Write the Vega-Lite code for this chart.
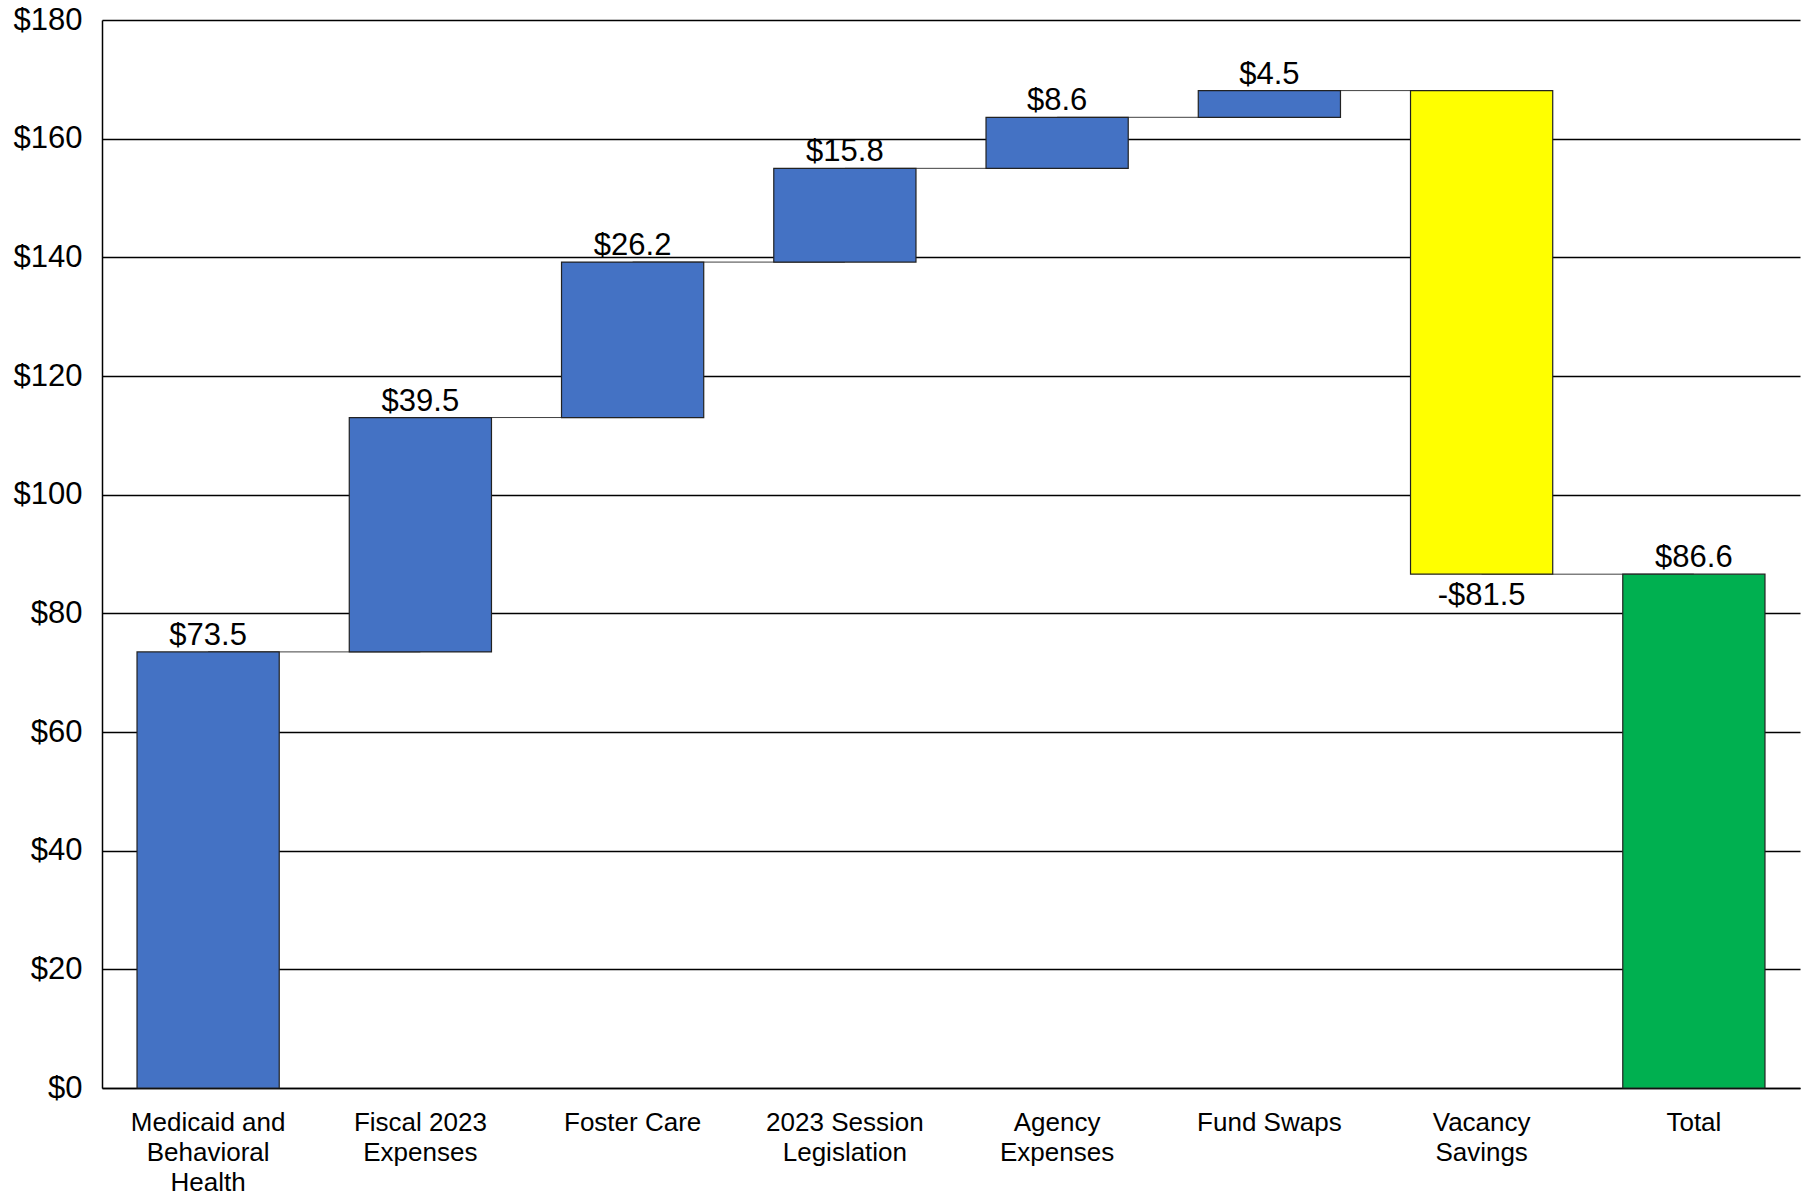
{
  "$schema": "https://vega.github.io/schema/vega-lite/v6.json",
  "width": 1698,
  "height": 1068,
  "autosize": {"type": "none"},
  "padding": {"left": 102, "top": 20, "right": 5, "bottom": 111},
  "background": "white",
  "config": {
    "view": {"stroke": null},
    "font": "Liberation Sans"
  },
  "data": {
    "values": [
      {"cat": "Medicaid and Behavioral Health", "next": "Fiscal 2023 Expenses", "start": 0, "end": 73.5, "kind": "increase", "label": "$73.5"},
      {"cat": "Fiscal 2023 Expenses", "next": "Foster Care", "start": 73.5, "end": 113.0, "kind": "increase", "label": "$39.5"},
      {"cat": "Foster Care", "next": "2023 Session Legislation", "start": 113.0, "end": 139.2, "kind": "increase", "label": "$26.2"},
      {"cat": "2023 Session Legislation", "next": "Agency Expenses", "start": 139.2, "end": 155.0, "kind": "increase", "label": "$15.8"},
      {"cat": "Agency Expenses", "next": "Fund Swaps", "start": 155.0, "end": 163.6, "kind": "increase", "label": "$8.6"},
      {"cat": "Fund Swaps", "next": "Vacancy Savings", "start": 163.6, "end": 168.1, "kind": "increase", "label": "$4.5"},
      {"cat": "Vacancy Savings", "next": "Total", "start": 168.1, "end": 86.6, "kind": "decrease", "label": "-$81.5"},
      {"cat": "Total", "next": null, "start": 0, "end": 86.6, "kind": "total", "label": "$86.6"}
    ]
  },
  "encoding": {
    "x": {
      "field": "cat",
      "type": "nominal",
      "sort": null,
      "scale": {"paddingInner": 0.33, "paddingOuter": 0.165},
      "axis": {
        "title": null,
        "labelAngle": 0,
        "labelFontSize": 26,
        "labelColor": "black",
        "labelFont": "Liberation Sans",
        "labelLineHeight": 30,
        "labelPadding": 21,
        "labelBaseline": "top",
        "ticks": false,
        "domain": true,
        "domainColor": "black",
        "domainWidth": 1.5,
        "labelExpr": "datum.value == 'Medicaid and Behavioral Health' ? ['Medicaid and','Behavioral','Health'] : datum.value == 'Fiscal 2023 Expenses' ? ['Fiscal 2023','Expenses'] : datum.value == '2023 Session Legislation' ? ['2023 Session','Legislation'] : datum.value == 'Agency Expenses' ? ['Agency','Expenses'] : datum.value == 'Vacancy Savings' ? ['Vacancy','Savings'] : datum.value"
      }
    }
  },
  "layer": [
    {
      "transform": [{"filter": "datum.next != null"}],
      "mark": {"type": "rule", "color": "#404040", "strokeWidth": 1},
      "encoding": {
        "x2": {"field": "next"},
        "y": {
          "field": "end",
          "type": "quantitative",
          "scale": {"domain": [0, 180], "nice": false, "zero": true},
          "axis": {
            "title": null,
            "values": [0, 20, 40, 60, 80, 100, 120, 140, 160, 180],
            "format": "$,.0f",
            "labelFontSize": 31,
            "labelColor": "black",
            "labelFont": "Liberation Sans",
            "labelPadding": 20,
            "ticks": false,
            "grid": true,
            "gridColor": "black",
            "gridWidth": 1.5,
            "gridOpacity": 1,
            "domain": true,
            "domainColor": "black",
            "domainWidth": 1.5
          }
        }
      }
    },
    {
      "mark": {"type": "bar", "stroke": "#222222", "strokeWidth": 1.2},
      "encoding": {
        "y": {"field": "start", "type": "quantitative"},
        "y2": {"field": "end"},
        "color": {
          "field": "kind",
          "type": "nominal",
          "scale": {"domain": ["increase", "decrease", "total"], "range": ["#4472C4", "#FFFF00", "#00B050"]},
          "legend": null
        }
      }
    },
    {
      "transform": [{"filter": "datum.kind != 'decrease'"}],
      "mark": {"type": "text", "fontSize": 31, "font": "Liberation Sans", "color": "black", "baseline": "alphabetic", "dy": -7},
      "encoding": {
        "y": {"field": "end", "type": "quantitative"},
        "text": {"field": "label"}
      }
    },
    {
      "transform": [{"filter": "datum.kind == 'decrease'"}],
      "mark": {"type": "text", "fontSize": 31, "font": "Liberation Sans", "color": "black", "baseline": "top", "dy": 7},
      "encoding": {
        "y": {"field": "end", "type": "quantitative"},
        "text": {"field": "label"}
      }
    }
  ]
}
